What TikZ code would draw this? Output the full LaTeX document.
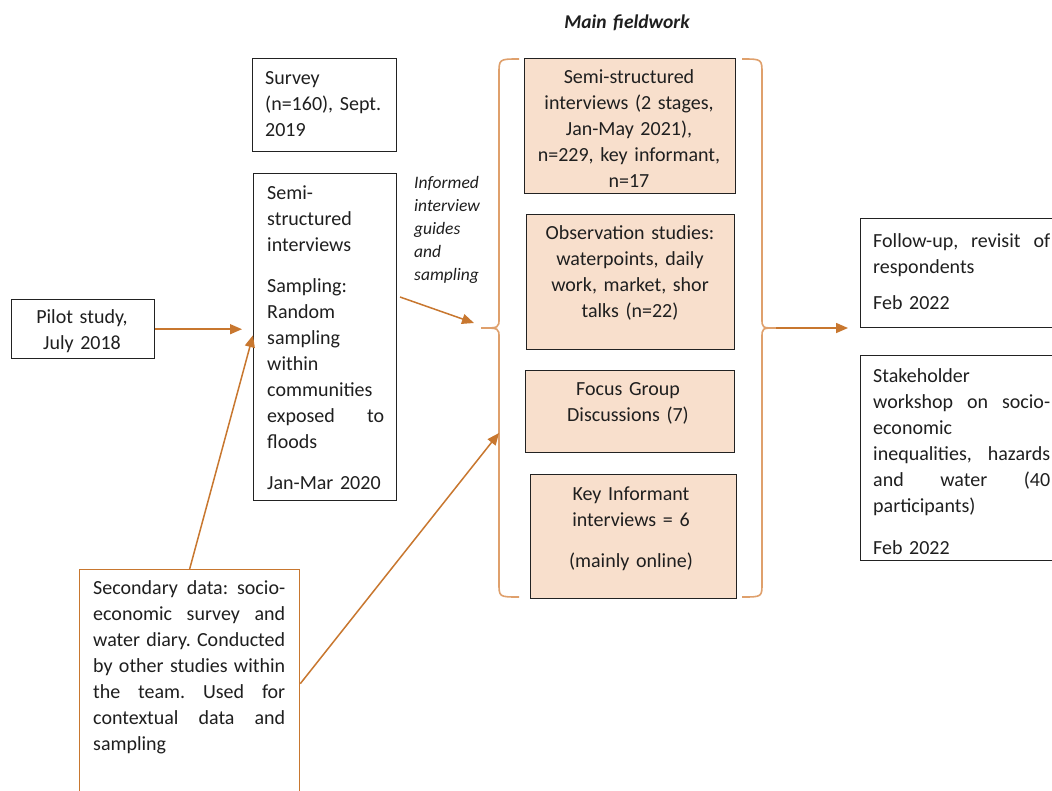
\documentclass[tikz,border=0pt]{standalone}
\usepackage{fontspec}
\setmainfont{Carlito}
\usetikzlibrary{arrows.meta,calc}
\definecolor{arrowc}{HTML}{C8772F}
\definecolor{bracec}{HTML}{DFA06C}
\definecolor{peach}{HTML}{F8DFCC}
\definecolor{boxline}{HTML}{222222}
\newcommand{\mytightspace}{\spaceskip=3.4pt plus 2pt minus 0.6pt\relax}
\tikzset{
  boxnode/.style={draw=boxline, line width=1.4pt, inner sep=0pt, anchor=north west},
  fieldbox/.style={boxnode, fill=peach},
  txt/.style={inner sep=0pt, font=\fontsize{20}{26}\selectfont\mytightspace, text=black!88},
  ltxt/.style={txt, anchor=base west, align=left},
  ctxt/.style={txt, anchor=base, align=center, text width=220pt},
  arr/.style={draw=arrowc, line width=1.5pt, -{Triangle[length=12pt,width=10pt]}},
  bracestyle/.style={draw=bracec, line width=1.6pt},
}
\begin{document}
\begin{tikzpicture}[x=1pt,y=-1pt]
\path[use as bounding box] (0,0) rectangle (1052,790);
\clip (0,0) rectangle (1052,790);
\fill[white] (0,0) rectangle (1052,790);

% boxes
\node[boxnode, minimum width=144pt, minimum height=93pt] (survey) at (252,58) {};
\node[boxnode, minimum width=143pt, minimum height=327pt] (semi) at (253,173) {};
\node[boxnode, minimum width=143pt, minimum height=59pt] (pilot) at (11,299) {};
\node[boxnode, draw=arrowc, line width=1.3pt, minimum width=220pt, minimum height=228pt] (sec) at (79,569) {};
\node[fieldbox, minimum width=211pt, minimum height=135pt] (fb1) at (524,58) {};
\node[fieldbox, minimum width=208pt, minimum height=135pt] (fb2) at (526,214) {};
\node[fieldbox, minimum width=209pt, minimum height=82pt] (fb3) at (525,370) {};
\node[fieldbox, minimum width=206pt, minimum height=124pt] (fb4) at (530,474) {};
\node[boxnode, minimum width=200pt, minimum height=109pt] (fu) at (860,218) {};
\node[boxnode, minimum width=200pt, minimum height=205pt] (sh) at (860,355) {};

% texts
\node[ltxt, text width=125pt] (surveyt) at (265,84) {Survey\\(n=160), Sept.\\2019};
\node[ltxt, text width=117pt] (semit) at (267,199) {Semi-\\structured\\interviews\\[15pt]Sampling:\\Random\\sampling\\within\\communities\\exposed\hfill to\\floods\\[15pt]Jan-Mar 2020};
\node[ctxt, text width=135pt] (pilott) at (82,323) {Pilot study,\\July 2018};
\node[ltxt, text width=192pt] (sect) at (93,594) {Secondary\hfill data:\hfill socio-\\economic\hfill survey\hfill and\\water\hfill diary.\hfill Conducted\\by\hfill other\hfill studies\hfill within\\the\hfill team.\hfill Used\hfill for\\contextual\hfill data\hfill and\\sampling};
\node[ctxt, font=\fontsize{19.5}{26}\selectfont\bfseries\itshape] (mainf) at (627,28) {Main fieldwork};
\node[ltxt, text width=75pt, font=\fontsize{17.5}{23}\selectfont\itshape] (inft) at (414,188) {Informed\\interview\\guides\\and\\sampling};
\node[ctxt] (fb1t) at (629,83) {Semi-structured\\interviews (2 stages,\\Jan-May 2021),\\n=229,\ key informant,\\n=17};
\node[ctxt] (fb2t) at (630,239) {Observation studies:\\waterpoints, daily\\work, market, shor\\talks (n=22)};
\node[ctxt] (fb3t) at (628,395) {Focus Group\\Discussions (7)};
\node[ctxt] (fb4t) at (631,500) {Key Informant\\interviews = 6\\[15pt](mainly online)};
\node[ltxt, text width=177pt] (fut) at (873,247) {Follow-up,\hfill revisit\hfill of\\respondents\\[10pt]Feb 2022};
\node[ltxt, text width=177pt] (sht) at (873,382) {Stakeholder\\workshop\hfill on\hfill socio-\\economic\\inequalities,\hfill hazards\\and\hfill water\hfill (40\\participants)\\[16pt]Feb 2022};

% braces
\coordinate (lbtip) at (481,328);
\coordinate (rbtip) at (776,328);
\draw[bracestyle] (519,59) .. controls (499,59) .. (499,74) -- (499,318) .. controls (499,328) .. (lbtip) .. controls (499,328) .. (499,338) -- (499,583) .. controls (499,597) .. (519,597);
\draw[bracestyle] (742,59) .. controls (762,59) .. (762,74) -- (762,318) .. controls (762,328) .. (rbtip) .. controls (762,328) .. (762,338) -- (762,583) .. controls (762,597) .. (742,597);

% connectors
\coordinate (infstart) at (400,297);
\coordinate (infend) at (474,323);
\coordinate (lbmid) at (499,433);
\draw[arr] (pilot.east) -- ([xshift=-11pt]semi.west |- pilot.east);
\draw[arr] (sec.north) -- ([yshift=2pt]semi.west);
\draw[arr] (sec.east) -- (lbmid);
\draw[arr] (infstart) -- (infend);
\draw[arr] (rbtip) -- ([xshift=-12pt]fu.west |- rbtip);
\end{tikzpicture}
\end{document}
